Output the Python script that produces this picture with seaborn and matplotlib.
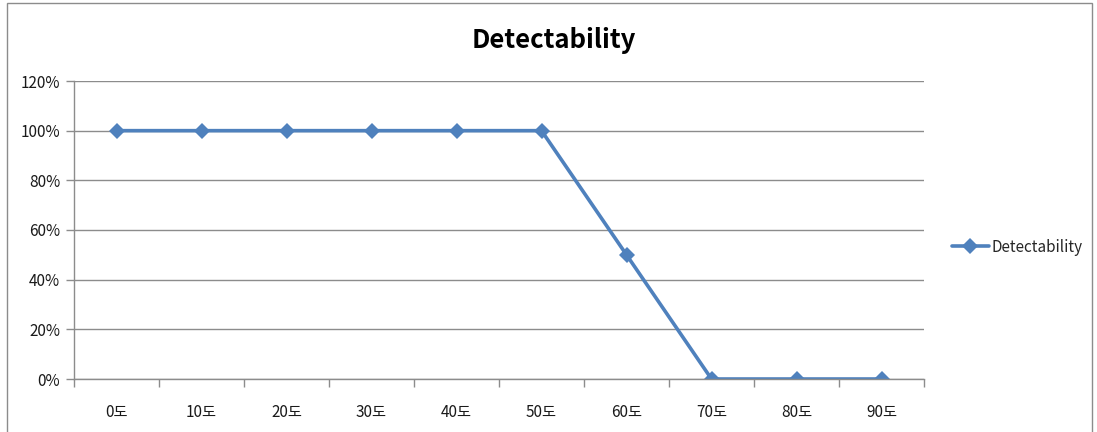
import matplotlib
matplotlib.use("Agg")
import matplotlib.pyplot as plt
import seaborn as sns
import pandas as pd
from matplotlib.ticker import FixedLocator, PercentFormatter
from matplotlib.patches import Rectangle

categories = ["0도", "10도", "20도", "30도", "40도", "50도", "60도", "70도", "80도", "90도"]
values = [1.0, 1.0, 1.0, 1.0, 1.0, 1.0, 0.5, 0.0, 0.0, 0.0]
series_name = "Detectability"
y_ticks = [0, 0.2, 0.4, 0.6, 0.8, 1.0, 1.2]

sns.set_theme(style="white")
plt.rcParams['font.family'] = ['Noto Sans CJK KR', 'DejaVu Sans']

df = pd.DataFrame({"angle": categories, "value": values, "series": series_name})

fig = plt.figure(figsize=(10.97, 4.32), dpi=100)
ax = fig.add_axes([74/1097, 1-379/432, (924-74)/1097, (379-81)/432])

color = "#4F81BD"
sns.lineplot(data=df, x="angle", y="value", hue="series", palette=[color],
             marker="D", markersize=8.5, linewidth=2.6, markeredgewidth=0,
             ax=ax, sort=False)

ax.set_xlim(-0.5, len(categories) - 0.5)
ax.set_ylim(0, 1.2)
ax.yaxis.set_major_locator(FixedLocator(y_ticks))
ax.yaxis.set_major_formatter(PercentFormatter(1.0, decimals=0))
ax.grid(axis="y", color="#8C8C8C", linewidth=1)
ax.set_axisbelow(True)

ax.set_xticks(range(len(categories)))
ax.set_xticklabels(categories)
ax.xaxis.set_minor_locator(FixedLocator([i - 0.5 for i in range(len(categories) + 1)]))
ax.tick_params(axis="x", which="major", length=0, pad=18, labelsize=11, colors="#1a1a1a")
ax.tick_params(axis="x", which="minor", length=6, width=1, color="#8C8C8C", direction="out", bottom=True)
ax.tick_params(axis="y", which="major", length=6, width=1, color="#8C8C8C", direction="out", left=True,
               labelsize=11, colors="#1a1a1a", pad=4)

for s in ["top", "right"]:
    ax.spines[s].set_visible(False)
for s in ["left", "bottom"]:
    ax.spines[s].set_color("#8C8C8C")
    ax.spines[s].set_linewidth(1)

ax.set_xlabel("")
ax.set_ylabel("")

fig.text(554/1097, 1-40/432, "Detectability", ha="center", va="center",
         fontsize=18.5, fontweight="bold", color="black")

leg = ax.legend(loc="center left", bbox_to_anchor=(946/1097, 1-247/432),
                bbox_transform=fig.transFigure, frameon=False, fontsize=11,
                handlelength=2.4, handletextpad=0.15, borderaxespad=0)

fig.add_artist(Rectangle((7/1097, -0.01), (1092-7)/1097, 1.0 - 3/432 + 0.01,
                         transform=fig.transFigure, fill=False,
                         edgecolor="#8C8C8C", linewidth=1))

fig.savefig("out.png", dpi=100)
